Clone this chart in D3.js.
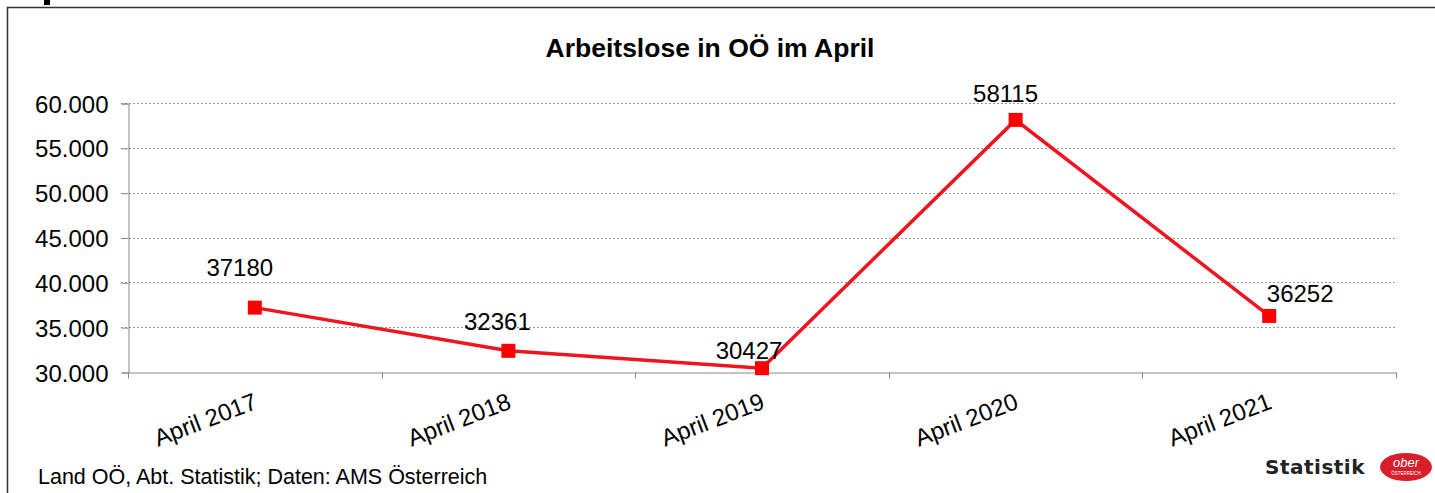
<!DOCTYPE html>
<html>
<head>
<meta charset="utf-8">
<script src="https://cdn.jsdelivr.net/npm/d3@7"></script>
<style>
  body { margin: 0; background: #fff; }
  svg { display: block; font-family: "Liberation Sans", Arial, sans-serif; }
</style>
</head>
<body>
<div id="chart"></div>
<script>
var categories = ["April 2017", "April 2018", "April 2019", "April 2020", "April 2021"];
var values = [37180, 32361, 30427, 58115, 36252];
var yTicks = [30000, 35000, 40000, 45000, 50000, 55000, 60000];
// label offsets relative to the marker (dx, dy)
var labelOffsets = [[-15, -32], [-11, -21], [-13, -9], [-10, -18], [31, -14]];

var width = 1435, height = 493;
var svg = d3.select("#chart").append("svg")
    .attr("width", width)
    .attr("height", height);

// frame
svg.append("rect")
    .attr("x", 7.5).attr("y", 7.5)
    .attr("width", width + 10).attr("height", height + 10)
    .attr("fill", "none").attr("stroke", "#333").attr("stroke-width", 1.5);
svg.append("rect")
    .attr("x", 44).attr("y", 0).attr("width", 6).attr("height", 5)
    .attr("fill", "#000");

var x = d3.scaleBand().domain(categories).range([128, 1396]);
var y = d3.scaleLinear().domain([30000, 60000]).range([372, 103]);

// title
svg.append("text")
    .attr("x", 710).attr("y", 57)
    .attr("text-anchor", "middle")
    .attr("font-size", 26.5).attr("font-weight", "bold")
    .text("Arbeitslose in OÖ im April");

// grid lines
svg.append("g").selectAll("line")
    .data(yTicks.slice(1))
    .join("line")
    .attr("x1", 121).attr("x2", 1396)
    .attr("y1", function(d) { return Math.round(y(d)) + 0.5; })
    .attr("y2", function(d) { return Math.round(y(d)) + 0.5; })
    .attr("stroke", "#999").attr("stroke-dasharray", "2,2");

// y axis
var yAxis = d3.axisLeft(y).tickValues(yTicks).tickSize(7).tickPadding(13)
    .tickFormat(function(d) { return d3.format(",")(d).replace(/,/g, "."); });
var gY = svg.append("g").attr("transform", "translate(128.5,0.5)").call(yAxis);
gY.select(".domain").attr("stroke", "#888");
gY.selectAll(".tick line").attr("stroke", "#888");
gY.selectAll(".tick text").attr("font-size", 24).attr("fill", "#000")
    .attr("dy", "0.36em")
    .attr("font-family", "Liberation Sans, Arial, sans-serif");

// x axis
var xAxis = d3.axisBottom(x).tickSize(0).tickFormat("");
var gX = svg.append("g").attr("transform", "translate(0,372.5)").call(xAxis);
gX.select(".domain").attr("stroke", "#888");
var bounds = categories.map(function(c) { return x(c); }).concat([x.range()[1]]);
gX.selectAll(".bound").data(bounds).join("line")
    .attr("class", "bound")
    .attr("x1", function(d) { return Math.round(d) + 0.5; })
    .attr("x2", function(d) { return Math.round(d) + 0.5; })
    .attr("y1", 0).attr("y2", 6)
    .attr("stroke", "#888");

svg.append("g").selectAll("text")
    .data(categories)
    .join("text")
    .attr("transform", function(d) {
        return "translate(" + (x(d) + x.bandwidth() / 2 + 4) + ",408) rotate(-21)";
    })
    .attr("text-anchor", "end")
    .attr("font-size", 24)
    .text(function(d) { return d; });

// line
var pts = categories.map(function(c, i) { return { c: c, v: values[i], i: i }; });
var line = d3.line()
    .x(function(d) { return x(d.c) + x.bandwidth() / 2; })
    .y(function(d) { return y(d.v); });
svg.append("path")
    .datum(pts)
    .attr("d", line)
    .attr("fill", "none")
    .attr("stroke", "#f0141e")
    .attr("stroke-width", 3.5);

svg.append("g").selectAll("rect")
    .data(pts)
    .join("rect")
    .attr("x", function(d) { return x(d.c) + x.bandwidth() / 2 - 7; })
    .attr("y", function(d) { return y(d.v) - 7; })
    .attr("width", 14).attr("height", 14)
    .attr("fill", "#ff0000");

svg.append("g").selectAll("text")
    .data(pts)
    .join("text")
    .attr("x", function(d) { return x(d.c) + x.bandwidth() / 2 + labelOffsets[d.i][0]; })
    .attr("y", function(d) { return y(d.v) + labelOffsets[d.i][1]; })
    .attr("text-anchor", "middle")
    .attr("font-size", 24)
    .text(function(d) { return d.v; });

// footer
svg.append("text")
    .attr("x", 38).attr("y", 484)
    .attr("font-size", 21.5)
    .text("Land OÖ, Abt. Statistik; Daten: AMS Österreich");

// logo
svg.append("text")
    .attr("x", 1265).attr("y", 474)
    .attr("font-size", 20).attr("font-weight", "bold")
    .attr("font-family", "DejaVu Sans, sans-serif")
    .attr("fill", "#222")
    .attr("letter-spacing", 0.5)
    .text("Statistik");
svg.append("ellipse")
    .attr("cx", 1406).attr("cy", 467).attr("rx", 26).attr("ry", 14)
    .attr("fill", "#d81e2a");
svg.append("text")
    .attr("x", 1406).attr("y", 467)
    .attr("text-anchor", "middle")
    .attr("font-size", 13).attr("font-style", "italic")
    .attr("fill", "#fff")
    .text("ober");
svg.append("text")
    .attr("x", 1406).attr("y", 475)
    .attr("text-anchor", "middle")
    .attr("font-size", 4.5)
    .attr("fill", "#fff")
    .text("ÖSTERREICH");
</script>
</body>
</html>
